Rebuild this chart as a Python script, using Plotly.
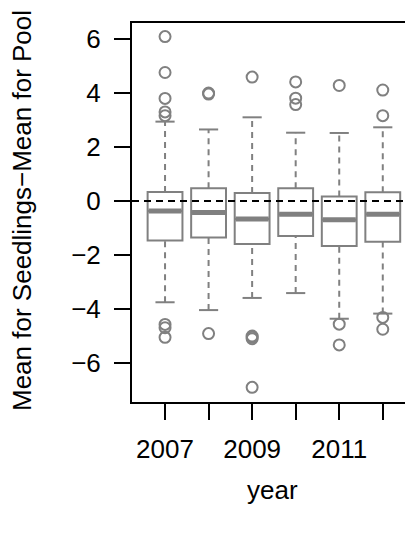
import plotly.graph_objects as go

years = [2007, 2008, 2009, 2010, 2011, 2012]
tick_labels = ["2007", "", "2009", "", "2011", ""]
q1 = [-1.46, -1.35, -1.59, -1.30, -1.67, -1.51]
median = [-0.37, -0.43, -0.67, -0.49, -0.69, -0.49]
q3 = [0.33, 0.47, 0.30, 0.47, 0.17, 0.32]
lower_whisker = [-3.75, -4.04, -3.59, -3.41, -4.36, -4.17]
upper_whisker = [2.94, 2.65, 3.10, 2.53, 2.52, 2.73]
outliers = [
    [6.09, 4.76, 3.80, 3.30, 3.16, -4.57, -4.69, -5.05],
    [3.96, 4.00, -4.91],
    [4.59, -5.00, -5.05, -5.10, -6.90],
    [4.41, 3.81, 3.57],
    [4.28, -4.56, -5.33],
    [4.11, 3.16, -4.31, -4.75],
]

GREY = "#808080"
FONT = "Liberation Sans"
FS = 26
BOXW = 0.8
STAPLE = 0.44
LW = 2

pos = list(range(1, len(years) + 1))

# page body has an 8px default margin: compensate in margins
OFF = 8
ML, MT, MB, MR = 132 - OFF, 23 - OFF, 533 - 402 + OFF, 6

fig = go.Figure()

# whiskers (dashed)
wx, wy = [], []
for p, a, b, lw, uw in zip(pos, q1, q3, lower_whisker, upper_whisker):
    wx += [p, p, None, p, p, None]
    wy += [lw, a, None, b, uw, None]
fig.add_trace(go.Scatter(x=wx, y=wy, mode="lines",
                         line=dict(color=GREY, width=LW, dash="6px,5px"),
                         hoverinfo="skip", showlegend=False))

# staples
sx, sy = [], []
for p, lw, uw in zip(pos, lower_whisker, upper_whisker):
    sx += [p - STAPLE / 2, p + STAPLE / 2, None, p - STAPLE / 2, p + STAPLE / 2, None]
    sy += [lw, lw, None, uw, uw, None]
fig.add_trace(go.Scatter(x=sx, y=sy, mode="lines",
                         line=dict(color=GREY, width=LW),
                         hoverinfo="skip", showlegend=False))

# boxes
fig.add_trace(go.Box(x=pos, q1=q1, median=median, q3=q3,
                     lowerfence=q1, upperfence=q3,
                     width=BOXW, fillcolor="white",
                     line=dict(color=GREY, width=LW),
                     whiskerwidth=0, boxpoints=False,
                     hoverinfo="skip", showlegend=False))

# medians (thick)
mx, my = [], []
for p, m in zip(pos, median):
    mx += [p - BOXW / 2 + 0.02, p + BOXW / 2 - 0.02, None]
    my += [m, m, None]
fig.add_trace(go.Scatter(x=mx, y=my, mode="lines",
                         line=dict(color=GREY, width=5),
                         hoverinfo="skip", showlegend=False))

# outliers
ox, oy = [], []
for p, vals in zip(pos, outliers):
    ox += [p] * len(vals)
    oy += vals
fig.add_trace(go.Scatter(x=ox, y=oy, mode="markers",
                         marker=dict(symbol="circle-open", size=11,
                                     color=GREY, line=dict(width=LW)),
                         hoverinfo="skip", showlegend=False))

# dashed zero reference line, drawn over the boxes
fig.add_hline(y=0, line=dict(color="black", width=2, dash="7px,5px"), layer="above")

plot_h = 533 - MT - MB
plot_w = 413 - ML - MR

fig.update_layout(
    width=413, height=533,
    margin=dict(l=ML, r=MR, t=MT, b=MB),
    plot_bgcolor="white", paper_bgcolor="white",
    font=dict(family=FONT, size=FS, color="black"),
    showlegend=False,
    xaxis=dict(range=[0.2414, 6.74], tickmode="array", tickvals=pos,
               ticktext=tick_labels, ticks="outside", ticklen=16, tickwidth=2,
               tickcolor="black", showline=True, linecolor="black", linewidth=2,
               mirror=True, showgrid=False, zeroline=False, ticklabelstandoff=7),
    yaxis=dict(range=[-7.444, 6.593], tickmode="array",
               tickvals=[-6, -4, -2, 0, 2, 4, 6],
               ticktext=["\u22126", "\u22124", "\u22122", "0", "2", "4", "6"],
               ticks="outside", ticklen=16, tickwidth=2, tickcolor="black",
               showline=True, linecolor="black", linewidth=2,
               showgrid=False, zeroline=False, ticklabelstandoff=8),
    annotations=[
        dict(text="year", xref="paper", yref="paper",
             x=(272 - OFF - ML) / plot_w, y=(533 - MB - (490 - OFF)) / plot_h,
             xanchor="center", yanchor="middle",
             showarrow=False, font=dict(size=FS)),
        dict(text="Mean for Seedlings\u2212Mean for Pool", textangle=-90,
             xref="paper", yref="paper",
             x=(22 - OFF - ML) / plot_w, y=(533 - MB - (211 - OFF)) / plot_h,
             xanchor="center", yanchor="middle",
             showarrow=False, font=dict(size=FS)),
    ],
)

fig.write_html("out.html")
